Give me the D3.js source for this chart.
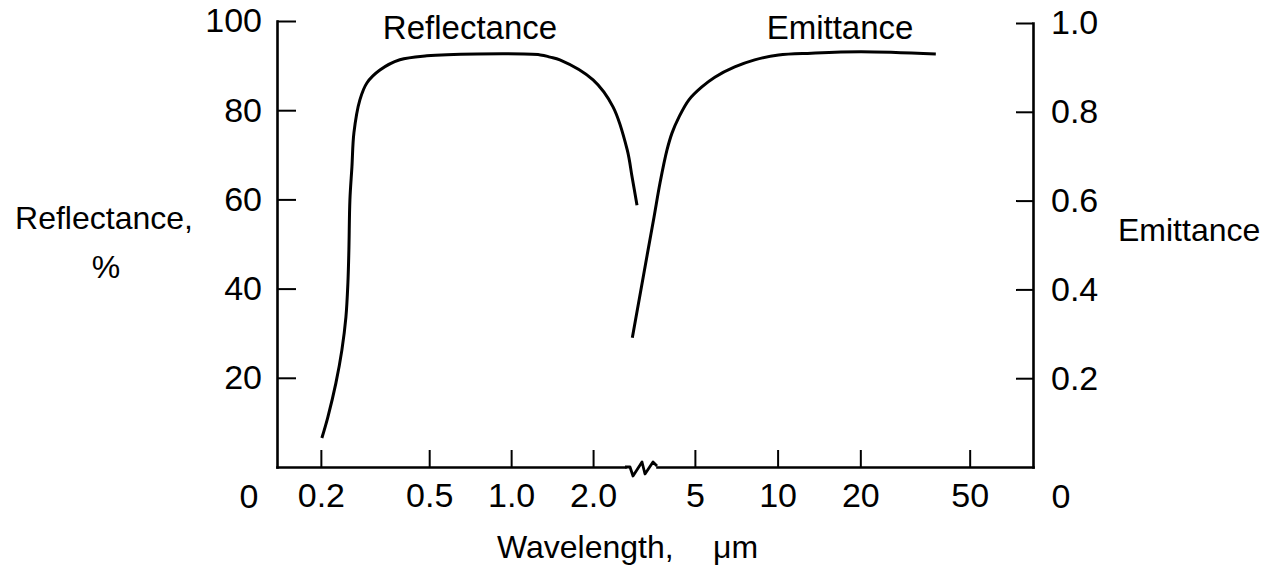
<!DOCTYPE html>
<html>
<head>
<meta charset="utf-8">
<script src="https://cdn.jsdelivr.net/npm/d3@7"></script>
<style>
  body { margin: 0; background: #fff; }
  text { font-family: "Liberation Sans", Arial, sans-serif; fill: #000; }
</style>
</head>
<body>
<div id="chart"></div>
<script>
// reflectance curve (left part of the broken axis), wavelength in um, value in %
const reflWavelength = [0.2017, 0.2122, 0.2271, 0.2389, 0.2472, 0.2514, 0.2535, 0.2557, 0.2601, 0.2645, 0.2782, 0.2952, 0.3296,
                        0.390, 0.490, 0.75, 1.28, 1.39, 1.51, 2.0, 2.37, 2.67, 2.782, 2.90];
const reflPercent    = [6.5, 11.2, 18.8, 26.2, 33.6, 41.3, 48.7, 59.9, 67.3, 74.9, 82.3, 86.1, 89.0,
                        91.3, 92.2, 92.6, 92.4, 91.9, 91.3, 86.8, 80.7, 71.1, 65.0, 58.7];

// emittance curve (right part), wavelength in um, value 0..1
const emitWavelength = [2.96, 3.378, 3.551, 3.734, 3.958, 4.127, 4.375, 4.756, 5.301, 5.908, 6.981, 8.250, 10.08, 13.27, 20.14, 37.65];
const emitValue      = [0.291, 0.489, 0.563, 0.640, 0.714, 0.752, 0.788, 0.827, 0.856, 0.878, 0.901, 0.917, 0.928, 0.932, 0.935, 0.930];

// tick values
const leftTicks = [20, 40, 60, 80, 100];
const rightTicks = [0.2, 0.4, 0.6, 0.8, 1.0];
const xTicksLow = [0.2, 0.5, 1.0, 2.0];
const xTicksHigh = [5, 10, 20, 50];

var width = 1278,
    height = 573;

var plotLeft = 277, plotRight = 1033,
    plotTop = 21, plotBottom = 467,
    breakStart = 625, breakEnd = 657;

const svg = d3.select("#chart")
  .append("svg")
    .attr("width", width)
    .attr("height", height);

// scales
const yLeft = d3.scaleLinear().domain([0, 100]).range([plotBottom, plotTop]);
const yRight = d3.scaleLinear().domain([0, 1]).range([plotBottom, plotTop + 2]);
const xLow = d3.scaleLog().domain([0.138, 2.62]).range([plotLeft, breakStart]);
const xHigh = d3.scaleLog().domain([3.64, 85]).range([breakEnd, plotRight]);

const tickFont = 34,
      titleFont = 32;

// left axis
const gLeft = svg.append("g")
  .attr("transform", `translate(${plotLeft},0)`)
  .call(d3.axisLeft(yLeft).tickValues(leftTicks).tickSize(-19).tickSizeOuter(0).tickPadding(15));

// right axis
const gRight = svg.append("g")
  .attr("transform", `translate(${plotRight},0)`)
  .call(d3.axisRight(yRight).tickValues(rightTicks).tickFormat(d3.format(".1f"))
        .tickSize(-17).tickSizeOuter(0).tickPadding(18));

// bottom axis, two pieces
const gLow = svg.append("g")
  .attr("transform", `translate(0,${plotBottom})`)
  .call(d3.axisBottom(xLow).tickValues(xTicksLow).tickFormat(d3.format(".1f"))
        .tickSize(-17).tickSizeOuter(0).tickPadding(16));

const gHigh = svg.append("g")
  .attr("transform", `translate(0,${plotBottom})`)
  .call(d3.axisBottom(xHigh).tickValues(xTicksHigh).tickFormat(d3.format("d"))
        .tickSize(-17).tickSizeOuter(0).tickPadding(16));

[gLeft, gRight, gLow, gHigh].forEach(g => {
  g.selectAll("text")
    .style("font-size", tickFont + "px")
    .style("font-family", "'Liberation Sans', Arial, sans-serif")
    .attr("fill", "#000");
  g.selectAll("line").attr("stroke", "#000").attr("stroke-width", 2);
  g.select(".domain").attr("stroke", "#000").attr("stroke-width", 2.6).attr("stroke-linecap", "square");
});

// axis break zigzag
const zig = [[breakStart, 0], [breakStart + 5, 0], [breakStart + 8, 9], [breakStart + 17, -5],
             [breakStart + 20, 7], [breakStart + 28, -5], [breakEnd, -1]];
svg.append("path")
  .attr("d", d3.line()(zig.map(p => [p[0], plotBottom + p[1]])))
  .attr("fill", "none")
  .attr("stroke", "#000")
  .attr("stroke-width", 2.8)
  .attr("stroke-linejoin", "round");

// zero labels at both corners
svg.append("text")
  .attr("x", plotLeft - 28).attr("y", plotBottom + 41)
  .attr("text-anchor", "middle").style("font-size", tickFont + "px")
  .text("0");
svg.append("text")
  .attr("x", plotRight + 28).attr("y", plotBottom + 41)
  .attr("text-anchor", "middle").style("font-size", tickFont + "px")
  .text("0");

// curves
const reflData = reflWavelength.map((w, i) => [w, reflPercent[i]]);
const emitData = emitWavelength.map((w, i) => [w, emitValue[i]]);

const reflLine = d3.line()
  .x(d => xLow(d[0]))
  .y(d => yLeft(d[1]))
  .curve(d3.curveCatmullRom.alpha(0.5));

const emitLine = d3.line()
  .x(d => xHigh(d[0]))
  .y(d => yRight(d[1]))
  .curve(d3.curveCatmullRom.alpha(0.5));

svg.append("path")
  .datum(reflData)
  .attr("d", reflLine)
  .attr("fill", "none")
  .attr("stroke", "#000")
  .attr("stroke-width", 3);

svg.append("path")
  .datum(emitData)
  .attr("d", emitLine)
  .attr("fill", "none")
  .attr("stroke", "#000")
  .attr("stroke-width", 3);

// curve titles
svg.append("text")
  .attr("x", 470).attr("y", 39)
  .attr("text-anchor", "middle").style("font-size", "33px")
  .text("Reflectance");
svg.append("text")
  .attr("x", 840).attr("y", 39)
  .attr("text-anchor", "middle").style("font-size", "33px")
  .text("Emittance");

// axis titles
svg.append("text")
  .attr("x", 104).attr("y", 229)
  .attr("text-anchor", "middle").style("font-size", titleFont + "px")
  .text("Reflectance,");
svg.append("text")
  .attr("x", 106).attr("y", 278)
  .attr("text-anchor", "middle").style("font-size", titleFont + "px")
  .text("%");
svg.append("text")
  .attr("x", 1118).attr("y", 241)
  .style("font-size", titleFont + "px")
  .text("Emittance");

const xTitle = svg.append("text")
  .attr("y", 558)
  .style("font-size", titleFont + "px");
xTitle.append("tspan").attr("x", 497).text("Wavelength,");
xTitle.append("tspan").attr("x", 713).text("μm");
</script>
</body>
</html>
